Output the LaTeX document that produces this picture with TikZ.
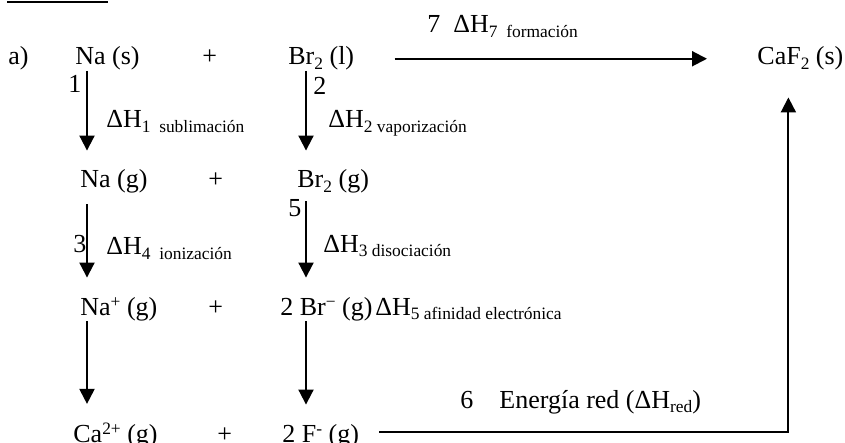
\documentclass[tikz,border=0pt]{standalone}
\usepackage{fontspec}
\setmainfont{Liberation Serif}
\usetikzlibrary{arrows.meta, positioning}
\newcommand{\lo}[1]{\raisebox{-0.35ex}{\fontsize{8.7}{10}\selectfont #1}}
\newcommand{\hi}[1]{\raisebox{0.6ex}{\fontsize{8.7}{10}\selectfont #1}}

\begin{document}
\begin{tikzpicture}[
    x=0.5pt, y=-0.5pt,
    % ── shared styles ───────────────────────────────────────────────
    chem/.style={
        anchor=base west, inner sep=0pt,
        font=\fontsize{13}{15}\selectfont,
    },
    arr/.style={
        -{Triangle[length=7.5pt,width=7.5pt]},
        line width=1pt,
    },
    down arrow/.style={
        arr, shorten >=9.5pt,
    },
]
\useasboundingbox (0,0) rectangle (845,443);

% cropped heading rule
\draw[line width=1pt] (7,2.5) -- (108,2.5);

% =============================================================
%  SPECIES (rows)
% =============================================================
\node[chem] (alab) at (8,65)   {a)};
\node[chem] (nas)  at (75,65)  {Na (s)};
\node[chem] (p1)   at (202,65) {+};
\node[chem] (brl)  at (288,65) {Br\lo{2} (l)};
\node[chem] (caf)  at (757,65) {CaF\lo{2} (s)};

\node[chem] (nag)  at (80,188)  {Na (g)};
\node[chem] (p2)   at (208,188) {+};
\node[chem] (brg)  at (297,188) {Br\lo{2} (g)};

\node[chem] (nap)  at (80,315)  {Na\hi{+} (g)};
\node[chem] (p3)   at (208,315) {+};
\node[chem] (brm)  at (280,315) {2 Br\hi{−} (g)};

\node[chem] (cap)  at (73,442)  {Ca\hi{2+} (g)};
\node[chem] (p4)   at (217,442) {+};
\node[chem] (fm)   at (282,442) {2 F\hi{-} (g)};

% =============================================================
%  STEP LABELS
% =============================================================
\node[chem] (n1) at (68,93)  {1};
\node[chem] (n2) at (313,95) {2};
\node[chem] (n5) at (288,217) {5};
\node[chem] (n3) at (73,252) {3};

\node[chem] (dh1) at (106,128) {ΔH\lo{1~ sublimación}};
\node[chem] (dh2) at (328,128) {ΔH\lo{2 vaporización}};
\node[chem] (dh4) at (106,255) {ΔH\lo{4~ ionización}};
\node[chem] (dh3) at (323,252) {ΔH\lo{3 disociación}};
\node[chem] (dh5) at (375,315) {ΔH\lo{5 afinidad electrónica}};
\node[chem] (dh7) at (427,33)  {7~ ΔH\lo{7~ formación}};
\node[chem] (dh6) at (460,408) {6\quad Energía red (ΔH\lo{red})};

% =============================================================
%  ARROWS
% =============================================================
\coordinate (na col) at (87,0);
\coordinate (br col) at (306,0);

\draw[down arrow] (nas.south -| na col) -- (nag.north -| na col);
\draw[down arrow, shorten <=5pt] (nag.south -| na col) -- (nap.north -| na col);
\draw[down arrow] (nap.south -| na col) -- (cap.north -| na col);

\draw[down arrow] (brl.south -| br col) -- (brg.north -| br col);
\draw[down arrow, shorten <=3.5pt] (brg.south -| br col) -- (brm.north -| br col);
\draw[down arrow] (brm.south -| br col) -- (fm.north -| br col);

\draw[arr, shorten <=20pt, shorten >=25pt] (brl.east) -- (caf.west);
\draw[arr, shorten <=10pt, shorten >=13.25pt] ([yshift=2pt]fm.east) -| ([xshift=-6pt]caf.south);

\end{tikzpicture}
\end{document}
